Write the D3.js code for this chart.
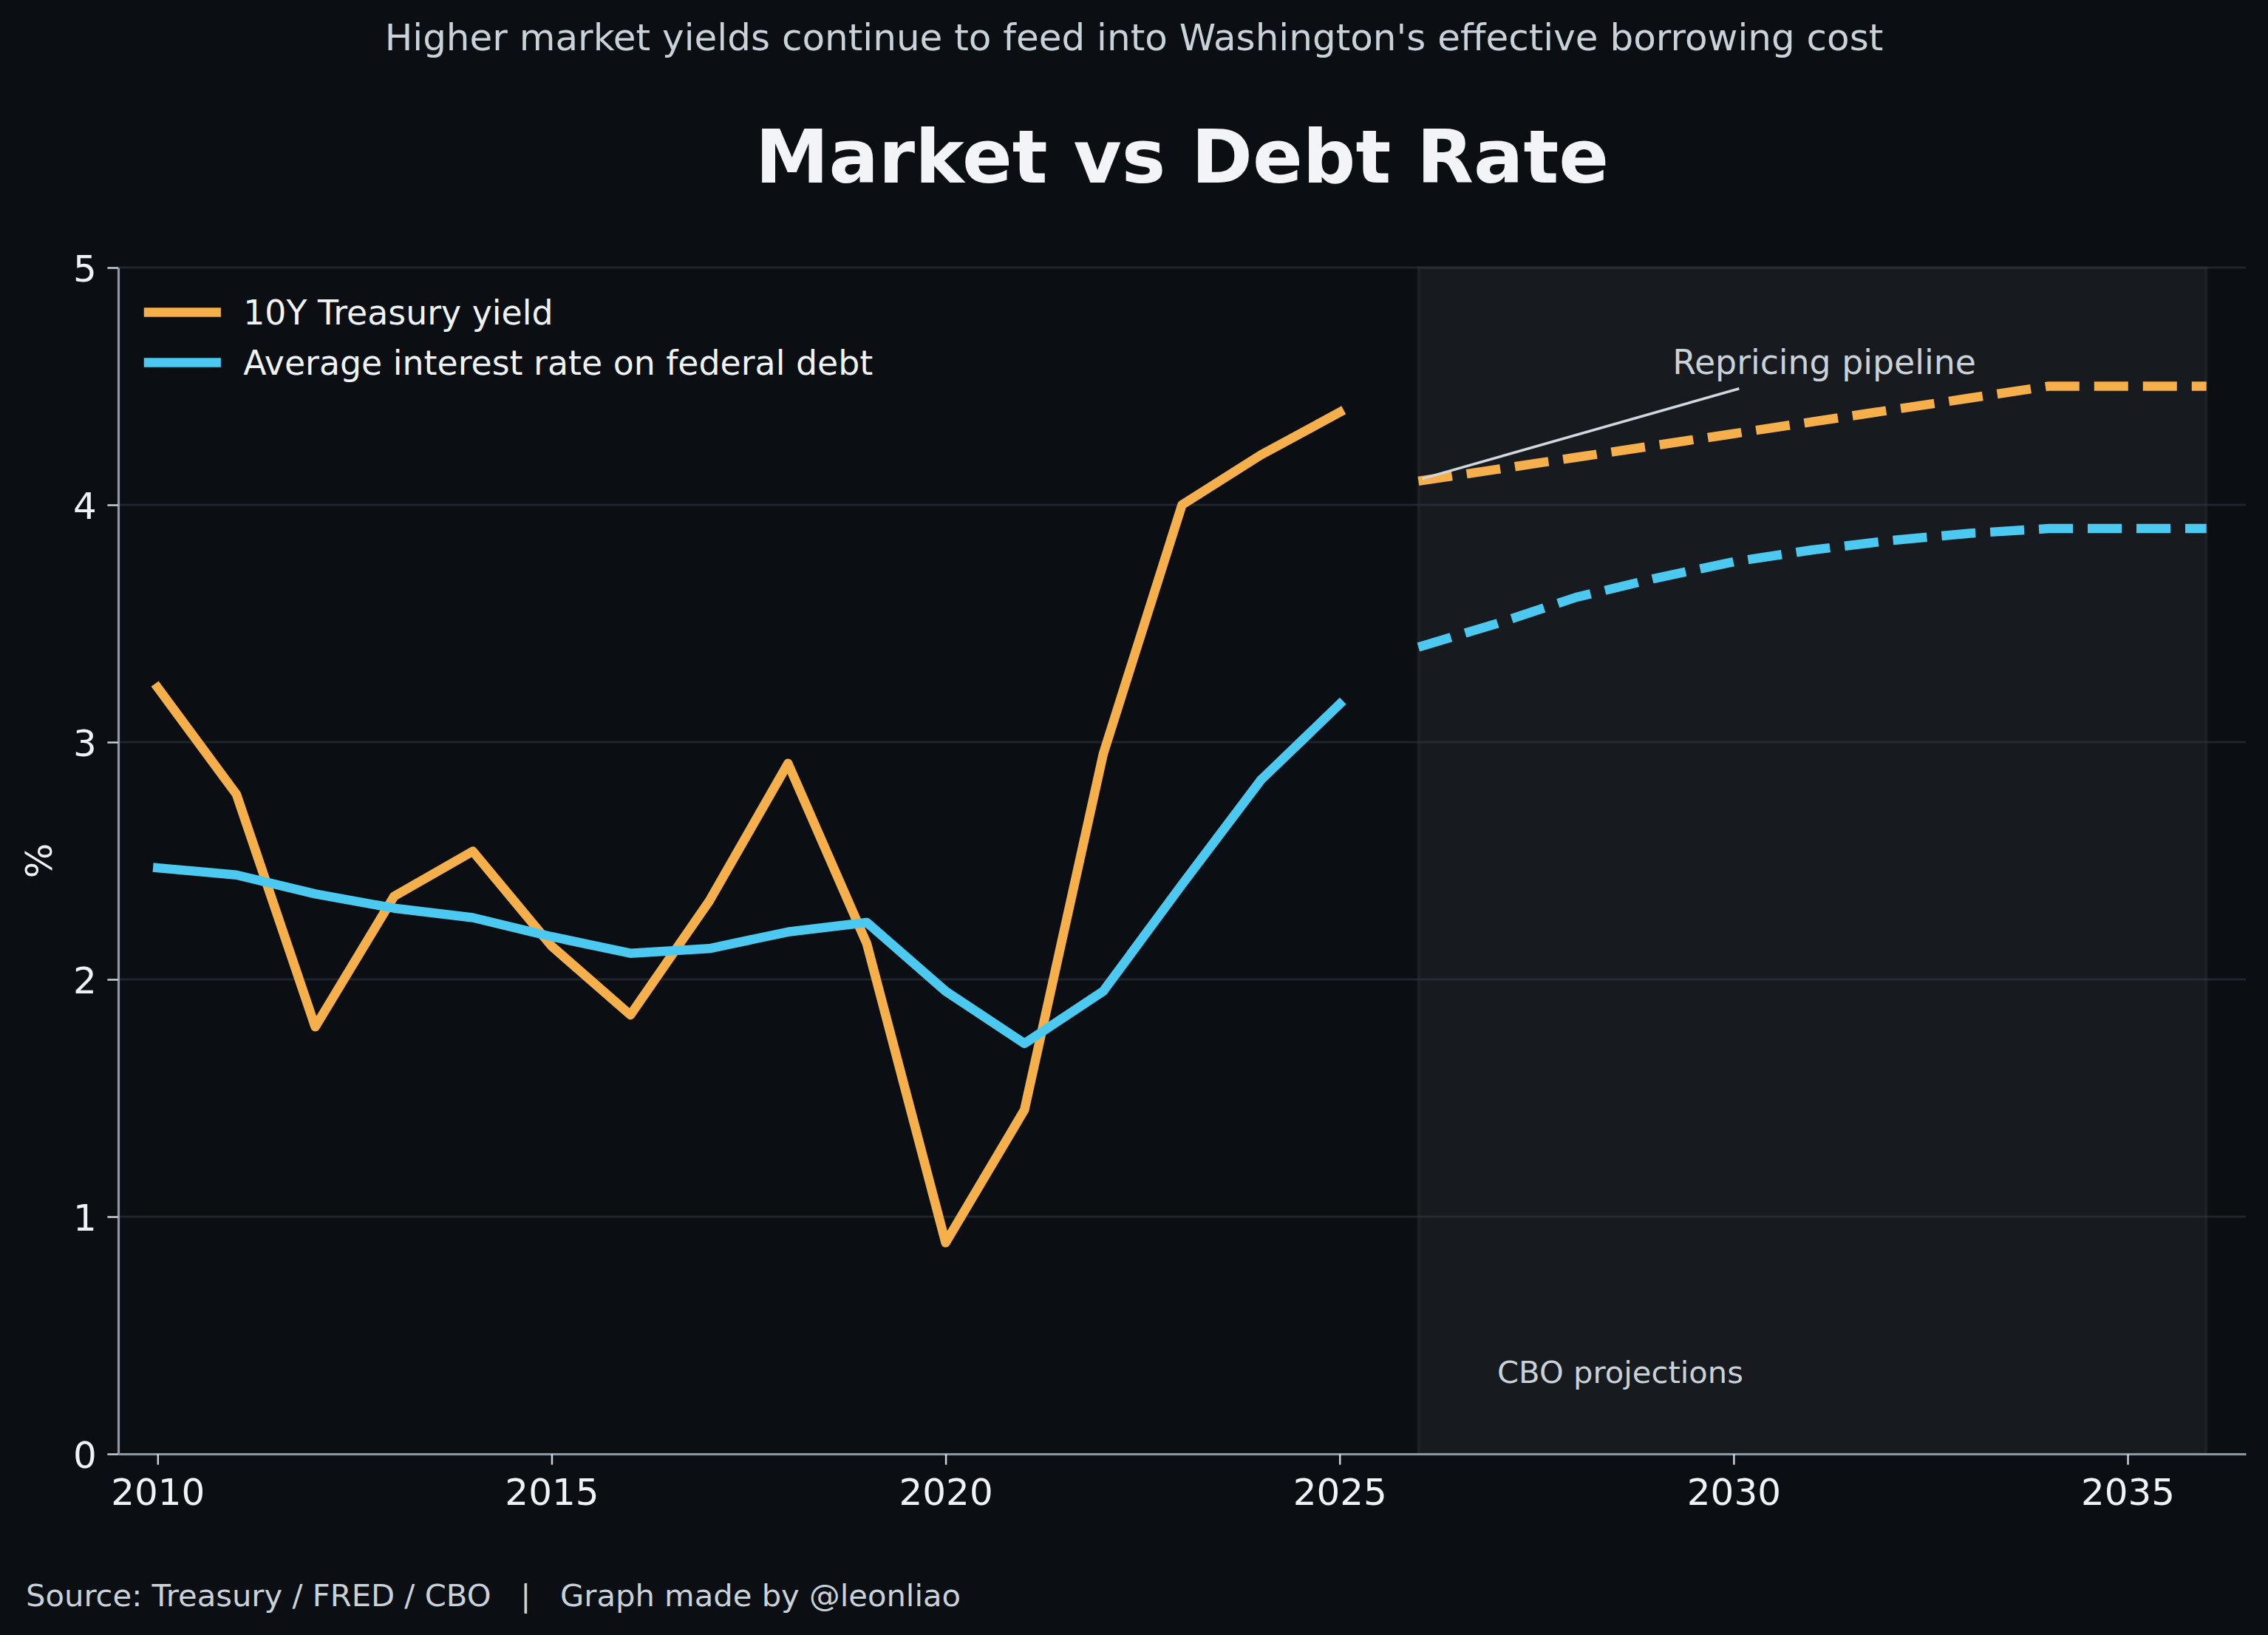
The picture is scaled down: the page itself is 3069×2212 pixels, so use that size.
<!DOCTYPE html>
<html>
<head>
<meta charset="utf-8">
<script src="https://cdn.jsdelivr.net/npm/d3@7"></script>
<style>
    body { margin: 0; background: #0b0e12; }
    text { font-family: "DejaVu Sans", sans-serif; }
</style>
</head>
<body>
<div id="line_graph_div"></div>
<script>
// history
const years = [2010, 2011, 2012, 2013, 2014, 2015, 2016, 2017, 2018, 2019, 2020, 2021, 2022, 2023, 2024, 2025];
const treasuryYield = [3.23, 2.78, 1.80, 2.35, 2.54, 2.14, 1.85, 2.33, 2.91, 2.15, 0.89, 1.45, 2.95, 4.00, 4.21, 4.39];
const avgDebtRate = [2.47, 2.44, 2.36, 2.30, 2.26, 2.18, 2.11, 2.13, 2.20, 2.24, 1.95, 1.73, 1.95, 2.40, 2.84, 3.16];

// CBO projections
const projYears = [2026, 2027, 2028, 2029, 2030, 2031, 2032, 2033, 2034, 2035, 2036];
const treasuryYieldProj = [4.10, 4.15, 4.20, 4.25, 4.30, 4.35, 4.40, 4.45, 4.50, 4.50, 4.50];
const avgDebtRateProj = [3.40, 3.50, 3.61, 3.69, 3.76, 3.81, 3.85, 3.88, 3.90, 3.90, 3.90];

const xTicks = [2010, 2015, 2020, 2025, 2030, 2035];
const yTicks = [0, 1, 2, 3, 4, 5];
const seriesNames = ["10Y Treasury yield", "Average interest rate on federal debt"];

const width = 3069, height = 2212;
const margin = {top: 362, right: 30, bottom: 245, left: 160};
const orange = "#f5b04b", blue = "#4cc9f0";

const svg = d3.select("#line_graph_div")
    .append("svg")
    .attr("width", width)
    .attr("height", height)
    .style("display", "block")
    .style("background", "#0b0e12");

let xScale = d3.scaleLinear()
            .domain([2009.5, 2036.5])
            .range([margin.left, width - margin.right]);

let yScale = d3.scaleLinear()
            .domain([0, 5])
            .range([height - margin.bottom, margin.top]);

// projection band
svg.append("rect")
    .attr("x", xScale(2026))
    .attr("y", yScale(5))
    .attr("width", xScale(2036) - xScale(2026))
    .attr("height", yScale(0) - yScale(5))
    .attr("fill", "#ffffff")
    .attr("fill-opacity", 0.05)
    .attr("stroke", "#ffffff")
    .attr("stroke-opacity", 0.05)
    .attr("stroke-width", 4);

// grid
svg.append("g")
    .selectAll("line")
    .data(yTicks)
    .join("line")
    .attr("x1", xScale.range()[0])
    .attr("x2", xScale.range()[1])
    .attr("y1", d => yScale(d))
    .attr("y2", d => yScale(d))
    .attr("stroke", "#30363d")
    .attr("stroke-opacity", 0.6)
    .attr("stroke-width", 3);

// axes
const xAxis = svg.append("g")
    .attr("transform", "translate(0," + yScale(0) + ")")
    .call(d3.axisBottom(xScale)
            .tickValues(xTicks)
            .tickFormat(d3.format("d"))
            .tickSize(14.6)
            .tickSizeOuter(0)
            .tickPadding(14.6));

const yAxis = svg.append("g")
    .attr("transform", "translate(" + xScale.range()[0] + ",0)")
    .call(d3.axisLeft(yScale)
            .tickValues(yTicks)
            .tickFormat(d3.format("d"))
            .tickSize(14.6)
            .tickSizeOuter(0)
            .tickPadding(14.6));

[xAxis, yAxis].forEach(function(ax){
    ax.select(".domain").attr("stroke", "#8b98a5").attr("stroke-width", 3.2);
    ax.selectAll(".tick line").attr("stroke", "#c9d1d9").attr("stroke-width", 2.5);
    ax.selectAll(".tick text")
        .attr("fill", "#f0f3f6")
        .style("font-size", "50px")
        .style("font-family", "DejaVu Sans");
});
xAxis.selectAll(".tick text").attr("dy", "0.8em");
yAxis.selectAll(".tick text").attr("dy", "0.36em");

// y label
svg.append("text")
    .attr("transform", "translate(70," + (yScale(2.5)) + ") rotate(-90)")
    .attr("text-anchor", "middle")
    .attr("fill", "#f0f3f6")
    .style("font-size", "50px")
    .text("%");

const line = d3.line()
    .x(function(d) { return xScale(d[0]); })
    .y(function(d) { return yScale(d[1]); });

function drawSeries(xs, ys, color, dashed){
    const p = svg.append("path")
        .datum(xs.map(function(x, i){ return [x, ys[i]]; }))
        .attr("fill", "none")
        .attr("stroke", color)
        .attr("stroke-width", 12.5)
        .attr("stroke-linejoin", "round")
        .attr("d", line);
    if(dashed){
        p.attr("stroke-dasharray", "46,20").attr("stroke-linecap", "butt");
    } else {
        p.attr("stroke-linecap", "square");
    }
}

drawSeries(years, treasuryYield, orange, false);
drawSeries(years, avgDebtRate, blue, false);
drawSeries(projYears, treasuryYieldProj, orange, true);
drawSeries(projYears, avgDebtRateProj, blue, true);

// annotations
svg.append("line")
    .attr("x1", xScale(2026.05))
    .attr("y1", yScale(4.11))
    .attr("x2", xScale(2030.07))
    .attr("y2", yScale(4.49))
    .attr("stroke", "#d0d7de")
    .attr("stroke-width", 3.5);

svg.append("text")
    .attr("x", xScale(2031.15))
    .attr("y", yScale(4.55))
    .attr("text-anchor", "middle")
    .attr("fill", "#c9d1d9")
    .style("font-size", "45.8px")
    .text("Repricing pipeline");

svg.append("text")
    .attr("x", xScale(2027))
    .attr("y", yScale(0.3))
    .attr("fill", "#c9d1d9")
    .style("font-size", "41.7px")
    .text("CBO projections");

// legend
const legend = svg.append("g")
    .selectAll("g")
    .data(seriesNames)
    .join("g")
    .attr("transform", (d, i) => "translate(201," + (422.5 + i * 68) + ")");

legend.append("line")
    .attr("x1", 0)
    .attr("x2", 91.6)
    .attr("stroke", (d, i) => i === 0 ? orange : blue)
    .attr("stroke-width", 12.5)
    .attr("stroke-linecap", "square");

legend.append("text")
    .attr("x", 128.2)
    .attr("y", 16.5)
    .attr("fill", "#f0f3f6")
    .style("font-size", "45.8px")
    .text(d => d);

// titles
svg.append("text")
    .attr("x", (xScale.range()[0] + xScale.range()[1]) / 2)
    .attr("y", 247)
    .attr("text-anchor", "middle")
    .attr("fill", "#f2f4f7")
    .style("font-size", "100px")
    .style("font-weight", "bold")
    .text("Market vs Debt Rate");

svg.append("text")
    .attr("x", width / 2)
    .attr("y", 68)
    .attr("text-anchor", "middle")
    .attr("fill", "#c9d1d9")
    .style("font-size", "50px")
    .text("Higher market yields continue to feed into Washington's effective borrowing cost");

svg.append("text")
    .attr("x", 35)
    .attr("y", 2173)
    .attr("fill", "#c9d1d9")
    .style("font-size", "41.7px")
    .style("white-space", "pre")
    .text("Source: Treasury / FRED / CBO   |   Graph made by @leonliao");
</script>
</body>
</html>
